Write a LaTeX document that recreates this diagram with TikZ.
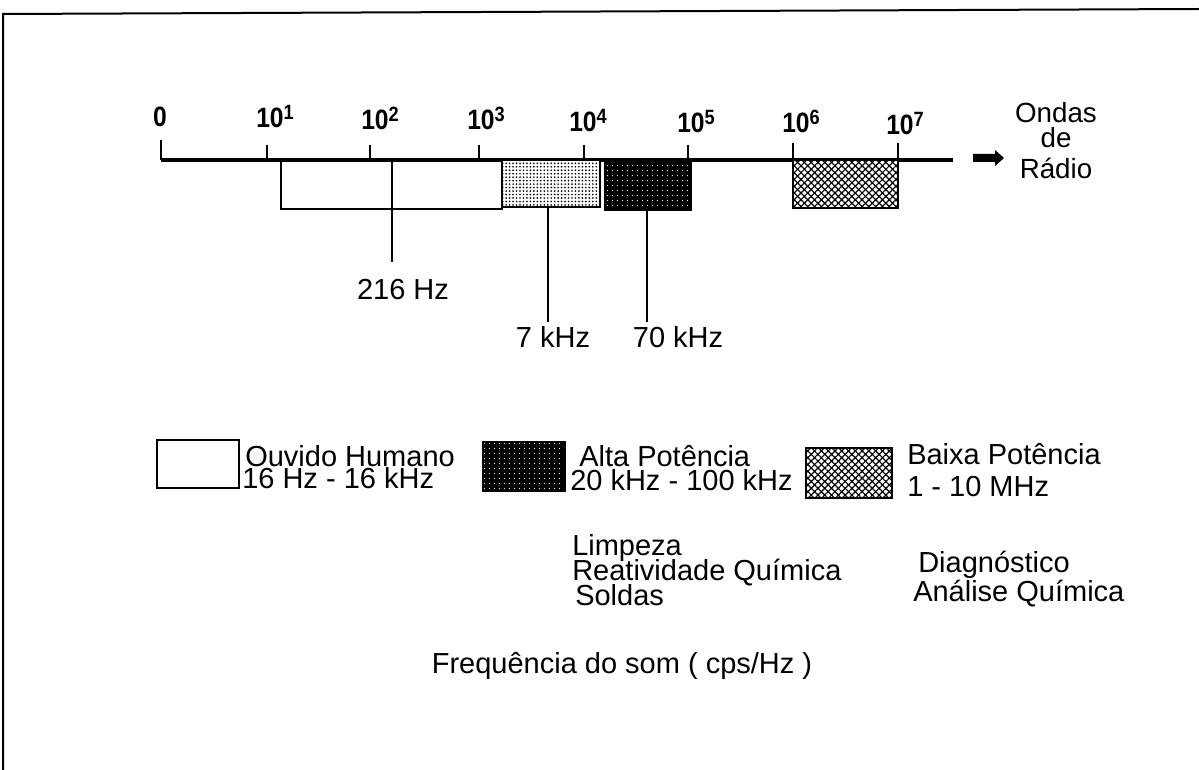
\documentclass[tikz,border=0pt]{standalone}
\usepackage{fontspec}
\setmainfont{Liberation Sans}
\newfontfamily\tickfont[FakeStretch=0.88]{Liberation Sans}
\usetikzlibrary{patterns.meta}
\newcommand\sprs[1]{\raisebox{6pt}{\fontsize{15.5}{15.5}\selectfont #1}}
\begin{document}
\begin{tikzpicture}[x=0.75pt,y=-0.75pt,
  txt/.style={font=\fontsize{21.75}{18}\selectfont, inner sep=0pt, anchor=base west},
  ctxt/.style={txt, anchor=base},
  radio/.style={font=\fontsize{20.8}{18}\selectfont, inner sep=0pt, anchor=base},
  ticklab/.style={font=\tickfont\bfseries\fontsize{21}{21}\selectfont, inner sep=0pt, anchor=base west},
  axisline/.style={line width=2.3pt},
  tickline/.style={line width=2pt},
  bx/.style={line width=2.2pt},
  leader/.style={line width=1.9pt},
  lightfill/.style={preaction={fill=white}, pattern={Dots[distance=2.6pt,radius=0.7pt]}, pattern color=black},
  darkfill/.style={preaction={fill=black}, pattern={Dots[distance=4pt,radius=0.5pt]}, pattern color=white},
  crossfill/.style={preaction={fill=white}, postaction={pattern={Lines[angle=-45,distance=3.6pt,line width=0.9pt]}}, pattern={Lines[angle=45,distance=3.6pt,line width=0.9pt]}, pattern color=black}
]
\useasboundingbox (0,0) rectangle (1199,770);
% frame
\draw[line width=1.5pt] (3,770) -- (3,14) -- (1199,9);
% axis
\coordinate (a0) at (161,160);
\coordinate (aend) at (953,160);
\draw[axisline] (a0) -- (aend);
\foreach \x/\t in {161/140,267/145,370/145,479/145,584/145,688/145,793/143,898/143}
  \draw[tickline] (\x,\t) -- (\x,160);
% tick labels
\node[ticklab, anchor=base] (t0) at (160,127) {0};
\node[ticklab] (t1) at (256,128) {10\sprs{1}};
\node[ticklab] (t2) at (361,130) {10\sprs{2}};
\node[ticklab] (t3) at (467,130) {10\sprs{3}};
\node[ticklab] (t4) at (569,132) {10\sprs{4}};
\node[ticklab] (t5) at (677,133) {10\sprs{5}};
\node[ticklab] (t6) at (782,133) {10\sprs{6}};
\node[ticklab] (t7) at (886,135) {10\sprs{7}};
% arrow and radio label
\fill (973,154) -- (995,154) -- (995,150) -- (1004,158) -- (995,166) -- (995,162) -- (973,162) -- cycle;
\node[radio] (r1) at (1056,123) {Ondas};
\node[radio] (r2) at (1056,148) {de};
\node[radio] (r3) at (1056,179) {Rádio};
% range boxes
\draw[bx] (281,160) rectangle (502,209);
\draw[bx, lightfill] (502,160) rectangle (600,207);
\draw[bx, darkfill] (605,160) rectangle (691,210);
\draw[bx, crossfill] (793,160) rectangle (898,208);
% leaders
\coordinate (p216) at (392,160);
\coordinate (q216) at (392,262);
\coordinate (p7) at (548,207);
\coordinate (q7) at (548,322);
\coordinate (p70) at (647,210);
\coordinate (q70) at (647,322);
\draw[leader] (p216) -- (q216);
\draw[leader] (p7) -- (q7);
\draw[leader] (p70) -- (q70);
\node[ctxt] (l216) at (403,299) {216 Hz};
\node[ctxt] (l7) at (553,347) {7 kHz};
\node[ctxt] (l70) at (678,347) {70 kHz};
% legend
\draw[bx] (157,440) rectangle (239,488);
\node[txt] (g1a) at (245,466) {Ouvido Humano};
\node[txt] (g1b) at (242,488) {16 Hz - 16 kHz};
\draw[bx, darkfill] (483,442) rectangle (565,491);
\node[txt] (g2a) at (579,466) {Alta Potência};
\node[txt] (g2b) at (570,490) {20 kHz - 100 kHz};
\draw[bx, crossfill] (806,448) rectangle (892,498);
\node[txt] (g3a) at (907,464) {Baixa Potência};
\node[txt] (g3b) at (907,496) {1 - 10 MHz};
% applications
\node[txt] (u1) at (572,555) {Limpeza};
\node[txt] (u2) at (572,580) {Reatividade Química};
\node[txt] (u3) at (575,605) {Soldas};
\node[txt] (u4) at (918,572) {Diagnóstico};
\node[txt] (u5) at (913,601) {Análise Química};
% caption
\node[ctxt] (cap) at (622,673) {Frequência do som ( cps/Hz )};
\end{tikzpicture}
\end{document}
